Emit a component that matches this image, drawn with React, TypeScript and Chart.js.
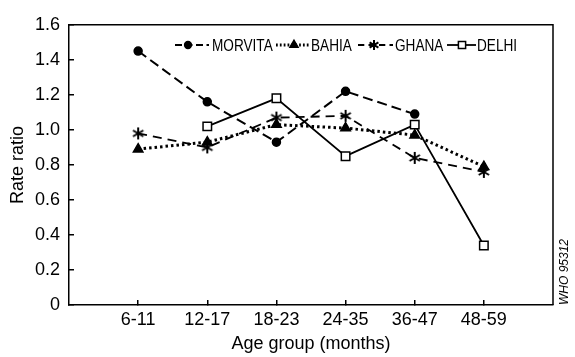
import React, { useEffect, useRef } from 'react';
import { Chart, registerables } from 'chart.js';
Chart.register(...registerables);

const categories = ['6-11', '12-17', '18-23', '24-35', '36-47', '48-59'];
const morvita: (number | null)[] = [1.45, 1.16, 0.93, 1.22, 1.09, null];
const bahia: (number | null)[] = [0.89, 0.93, 1.03, 1.01, 0.97, 0.79];
const ghana: (number | null)[] = [0.98, 0.9, 1.07, 1.08, 0.84, 0.76];
const delhi: (number | null)[] = [null, 1.02, 1.18, 0.85, 1.03, 0.34];
const yTickValues = [0, 0.2, 0.4, 0.6, 0.8, 1.0, 1.2, 1.4, 1.6];
const yTickLabels = ['0', '0.2', '0.4', '0.6', '0.8', '1.0', '1.2', '1.4', '1.6'];
const seriesNames = ['MORVITA', 'BAHIA', 'GHANA', 'DELHI'];
const xTitle = 'Age group (months)';
const yTitle = 'Rate ratio';
const code = 'WHO 95312';

const FONT = "'Liberation Sans', Arial, sans-serif";

const styles = [
  { dash: [10, 5], width: 2, marker: 'circle', radius: 4, fill: '#000' },
  { dash: [2.5, 3], width: 3, marker: 'triangle', radius: 5.5, fill: '#000' },
  { dash: [9, 6], width: 1.8, marker: 'star', radius: 6, fill: '#000' },
  { dash: [], width: 1.8, marker: 'rect', radius: 6, fill: '#fff' },
];

// legend layout (sample line start/end, marker x, text x)
const legendLayout = [
  { x0: 175, x1: 209, mx: 188, tx: 212 },
  { x0: 276, x1: 309, mx: 294, tx: 311 },
  { x0: 358, x1: 393, mx: 374, tx: 395 },
  { x0: 447, x1: 476, mx: 462, tx: 477 },
];

function strokeAsterisk(ctx: CanvasRenderingContext2D, x: number, y: number, r: number) {
  const angles = [Math.PI / 2, Math.PI / 6, (5 * Math.PI) / 6];
  ctx.beginPath();
  angles.forEach((a) => {
    ctx.moveTo(x + Math.cos(a) * r, y - Math.sin(a) * r);
    ctx.lineTo(x - Math.cos(a) * r, y + Math.sin(a) * r);
  });
  ctx.stroke();
}

function makeAsterisk(r: number): HTMLCanvasElement {
  const c = document.createElement('canvas');
  const s = Math.ceil(r * 2 + 4);
  c.width = s;
  c.height = s;
  const ctx = c.getContext('2d')!;
  ctx.strokeStyle = '#000';
  ctx.lineWidth = 2;
  strokeAsterisk(ctx, s / 2, s / 2, r);
  return c;
}

function drawMarker(ctx: CanvasRenderingContext2D, kind: string, x: number, y: number, r: number, fill: string) {
  ctx.save();
  ctx.setLineDash([]);
  ctx.strokeStyle = '#000';
  ctx.fillStyle = fill;
  ctx.lineWidth = 1.5;
  ctx.beginPath();
  if (kind === 'circle') {
    ctx.arc(x, y, r, 0, Math.PI * 2);
    ctx.fill();
    ctx.stroke();
  } else if (kind === 'triangle') {
    ctx.moveTo(x, y - r);
    ctx.lineTo(x + r * 0.87, y + r * 0.5);
    ctx.lineTo(x - r * 0.87, y + r * 0.5);
    ctx.closePath();
    ctx.fill();
    ctx.stroke();
  } else if (kind === 'star') {
    ctx.lineWidth = 2;
    strokeAsterisk(ctx, x, y, r);
  } else {
    const s = Math.SQRT1_2 * r;
    ctx.rect(x - s, y - s, 2 * s, 2 * s);
    ctx.fill();
    ctx.stroke();
  }
  ctx.restore();
}

const legendPlugin = {
  id: 'customLegend',
  afterDraw(chart: any) {
    const ctx: CanvasRenderingContext2D = chart.ctx;
    const area = chart.chartArea;
    ctx.save();
    // frame top and right
    ctx.strokeStyle = '#000';
    ctx.lineWidth = 1.5;
    ctx.beginPath();
    ctx.moveTo(area.left, area.top);
    ctx.lineTo(area.right, area.top);
    ctx.lineTo(area.right, area.bottom);
    ctx.stroke();

    // legend
    const y = 45;
    seriesNames.forEach((name, i) => {
      const st = styles[i];
      const L = legendLayout[i];
      ctx.save();
      ctx.strokeStyle = '#000';
      ctx.lineWidth = st.width;
      ctx.setLineDash(st.dash.map((d) => d * 0.7));
      ctx.beginPath();
      ctx.moveTo(L.x0, y);
      ctx.lineTo(L.x1, y);
      ctx.stroke();
      ctx.restore();
      drawMarker(ctx, st.marker, L.mx, y, st.radius * 0.85, st.fill);
      ctx.save();
      ctx.translate(L.tx, y);
      ctx.scale(0.8, 1);
      ctx.font = `17px ${FONT}`;
      ctx.textBaseline = 'middle';
      ctx.fillStyle = '#000';
      ctx.fillText(name, 0, 1);
      ctx.restore();
    });

    // code text
    ctx.save();
    ctx.translate(565, 272);
    ctx.rotate(-Math.PI / 2);
    ctx.font = `italic 12px ${FONT}`;
    ctx.textAlign = 'center';
    ctx.textBaseline = 'middle';
    ctx.fillStyle = '#000';
    ctx.fillText(code, 0, 0);
    ctx.restore();
    ctx.restore();
  },
};

export default function App() {
  const ref = useRef<HTMLCanvasElement>(null);
  useEffect(() => {
    document.body.style.margin = '0';
    const datasets = [morvita, bahia, ghana, delhi].map((vals, i) => {
      const st = styles[i];
      return {
        label: seriesNames[i],
        data: vals.map((v, j) => ({ x: j + 1, y: v })),
        borderColor: '#000',
        backgroundColor: st.fill,
        borderWidth: st.width,
        borderDash: st.dash,
        pointStyle: st.marker === 'star' ? makeAsterisk(st.radius) : st.marker,
        pointRadius: st.radius,
        pointBorderWidth: 1.5,
        pointBorderColor: '#000',
        pointBackgroundColor: st.fill,
        tension: 0,
        spanGaps: false,
      };
    });
    const chart = new Chart(ref.current!, {
      type: 'line',
      data: { datasets: datasets as any },
      options: {
        animation: false,
        responsive: false,
        layout: { padding: { left: 0, top: 17, right: 22, bottom: 0 } },
        plugins: { legend: { display: false }, tooltip: { enabled: false } },
        scales: {
          x: {
            type: 'linear',
            min: 0,
            max: 7,
            afterBuildTicks: (axis: any) => {
              axis.ticks = categories.map((_, i) => ({ value: i + 1 }));
            },
            afterFit: (axis: any) => {
              axis.height = 52;
            },
            ticks: {
              color: '#000',
              font: { family: FONT, size: 18 },
              padding: 9,
              maxRotation: 0,
              autoSkip: false,
              callback: (v: any) => categories[Number(v) - 1] ?? '',
            },
            grid: { drawOnChartArea: false, drawTicks: true, tickLength: -5, color: '#000', lineWidth: 1.5 },
            border: { display: true, color: '#000', width: 1.5 },
            title: {
              display: true,
              text: xTitle,
              color: '#000',
              font: { family: FONT, size: 18 },
              padding: { top: 0, bottom: 2 },
            },
          },
          y: {
            min: 0,
            max: 1.6,
            afterBuildTicks: (axis: any) => {
              axis.ticks = yTickValues.map((v) => ({ value: v }));
            },
            afterFit: (axis: any) => {
              axis.width = 69;
            },
            ticks: {
              color: '#000',
              font: { family: FONT, size: 18 },
              padding: 14,
              autoSkip: false,
              callback: (v: any) => {
                const idx = yTickValues.findIndex((t) => Math.abs(t - Number(v)) < 1e-6);
                return idx >= 0 ? yTickLabels[idx] : '';
              },
            },
            grid: { drawOnChartArea: false, drawTicks: true, tickLength: -5, color: '#000', lineWidth: 1.5 },
            border: { display: true, color: '#000', width: 1.5 },
            title: {
              display: true,
              text: yTitle,
              color: '#000',
              font: { family: FONT, size: 18 },
              padding: { top: 7, bottom: 0 },
            },
          },
        },
      },
      plugins: [legendPlugin],
    });
    return () => chart.destroy();
  }, []);
  return (
    <div style={{ width: 575, height: 357, background: '#fff' }}>
      <canvas ref={ref} width={575} height={357} style={{ display: 'block' }} />
    </div>
  );
}
